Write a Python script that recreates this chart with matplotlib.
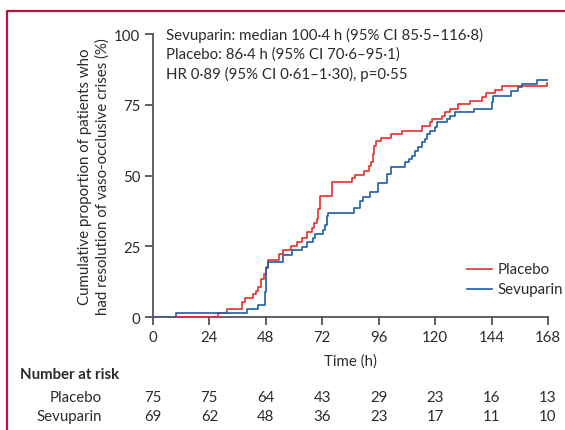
import numpy as np
import matplotlib
matplotlib.use("Agg")
import matplotlib.pyplot as plt
from matplotlib.lines import Line2D

# step times (h) and cumulative proportion (%)
placebo_t = [0, 27.8, 31.3, 37.7, 39.1, 42.7, 43.8, 44.8, 45.8, 47.0, 48.1, 49.0,
             53.7, 55.4, 58.6, 61.4, 63.2, 65.4, 67.5, 68.5, 69.6, 70.3, 71.0,
             76.0, 84.5, 85.9, 89.7, 92.0, 92.7, 93.4, 94.1, 94.9, 96.8, 101.1,
             105.8, 114.3, 117.8, 118.5, 122.8, 124.2, 126.3, 129.9, 134.8,
             139.8, 141.6, 145.5, 148.3, 167.6, 168]
placebo_y = [0, 1.3, 2.7, 5.3, 6.7, 8.0, 9.3, 10.7, 13.3, 15.1, 17.5, 20.0,
             22.3, 23.8, 25.2, 26.4, 27.9, 30.2, 31.6, 33.2, 34.6, 38.2, 42.8,
             47.6, 49.0, 50.2, 51.7, 53.5, 54.7, 57.6, 60.5, 62.3, 63.4, 64.7,
             65.8, 67.6, 68.8, 70.0, 71.1, 72.3, 73.5, 75.3, 76.4,
             77.6, 79.2, 80.3, 81.7, 82.7, 82.7]

sevu_t = [0, 9.8, 39.8, 44.5, 47.5, 48.0, 48.7, 55.2, 59.0, 63.2, 65.4, 68.2,
          68.9, 72.2, 73.2, 73.9, 74.6, 85.5, 88.0, 89.2, 92.3, 95.8, 99.4,
          101.1, 107.2, 109.0, 110.0, 111.4, 112.9, 114.3, 115.7, 116.4, 117.8,
          119.9, 121.0, 124.9, 126.3, 128.5, 136.5, 144.0, 144.8, 152.3, 155.4,
          156.8, 163.2, 168]
sevu_y = [0, 1.4, 2.9, 4.3, 8.7, 17.4, 19.3, 22.0, 23.5, 24.9, 26.4, 27.8,
          29.3, 30.9, 32.6, 35.6, 36.9, 38.4, 41.0, 42.4, 44.3, 47.3, 50.5,
          53.0, 54.6, 55.8, 57.0, 58.8, 60.0, 61.7, 62.9, 64.7, 65.8,
          67.0, 69.0, 70.0, 71.1, 72.3, 73.5, 75.8, 78.2, 79.7, 81.1,
          82.5, 83.8, 83.8]

risk_times = [0, 24, 48, 72, 96, 120, 144, 168]
risk_placebo = [75, 75, 64, 43, 29, 23, 16, 13]
risk_sevu = [69, 62, 48, 36, 23, 17, 11, 10]

stats_lines = ["Sevuparin: median 100\u00b74 h (95% CI 85\u00b75\u2013116\u00b78)",
               "Placebo: 86\u00b74 h (95% CI 70\u00b76\u201395\u00b71)",
               "HR 0\u00b789 (95% CI 0\u00b761\u20131\u00b730), p=0\u00b755"]

RED = "#e8302c"
BLUE = "#1d5fa6"
TXT = "#2b2b2b"
AX = "#555555"
FS = 10.8

plt.rcParams["font.family"] = ["Lato", "DejaVu Sans"]
plt.rcParams["font.size"] = FS

fig = plt.figure(figsize=(5.65, 4.31), dpi=100)
ax = fig.add_axes([153 / 565, 1 - 318 / 431, 395 / 565, 283 / 431])

ax.step(placebo_t, placebo_y, where="post", color=RED, lw=1.2, zorder=3)
ax.step(sevu_t, sevu_y, where="post", color=BLUE, lw=1.2, zorder=3)

ax.set_xlim(0, 168)
ax.set_ylim(0, 100)
ax.set_xticks(risk_times)
ax.set_yticks([0, 25, 50, 75, 100])
for s in ["top", "right"]:
    ax.spines[s].set_visible(False)
for s in ["left", "bottom"]:
    ax.spines[s].set_color(AX)
    ax.spines[s].set_linewidth(1.3)
ax.tick_params(direction="out", length=6, width=1.3, color=AX,
               labelcolor=TXT, labelsize=FS, pad=3)
ax.set_xlabel("Time (h)", color=TXT, fontsize=FS, labelpad=7)
ax.set_ylabel("Cumulative proportion of patients who\nhad resolution of vaso-occlusive crises (%)",
              color=TXT, fontsize=FS, labelpad=3, linespacing=1.3)

for i, line in enumerate(stats_lines):
    ax.text(5.5, 100 - i * 6.9, line, color=TXT, fontsize=FS, va="center", ha="left")

# legend drawn by hand so it can run to the figure edge
for k, (name, col) in enumerate([("Placebo", RED), ("Sevuparin", BLUE)]):
    yy = 0.170 - k * 0.071
    ax.add_line(Line2D([0.795, 0.858], [yy, yy], transform=ax.transAxes,
                       color=col, lw=1.2, clip_on=False))
    ax.text(0.873, yy, name, transform=ax.transAxes, va="center", ha="left",
            color=TXT, fontsize=FS, clip_on=False)

# number at risk table
tr = ax.get_xaxis_transform()
fig.text(20 / 565, 1 - 375 / 431, "Number at risk", fontweight="bold",
         color=TXT, fontsize=FS, va="center", ha="left")
for row_y, name, vals in [(-0.283, "Placebo", risk_placebo),
                          (-0.35, "Sevuparin", risk_sevu)]:
    ax.text(-0.13, row_y, name, transform=ax.transAxes, ha="right", va="center",
            color=TXT, fontsize=FS)
    for t, v in zip(risk_times, vals):
        ax.text(t, row_y, str(v), transform=tr, ha="center", va="center",
                color=TXT, fontsize=FS, clip_on=False)

# frame lines of the panel
fig.add_artist(Line2D([7 / 565, 7 / 565, 1], [0, 1 - 12 / 431, 1 - 12 / 431],
                      transform=fig.transFigure, color="#b0173f", lw=1.6))

fig.savefig("out.png", dpi=100)
